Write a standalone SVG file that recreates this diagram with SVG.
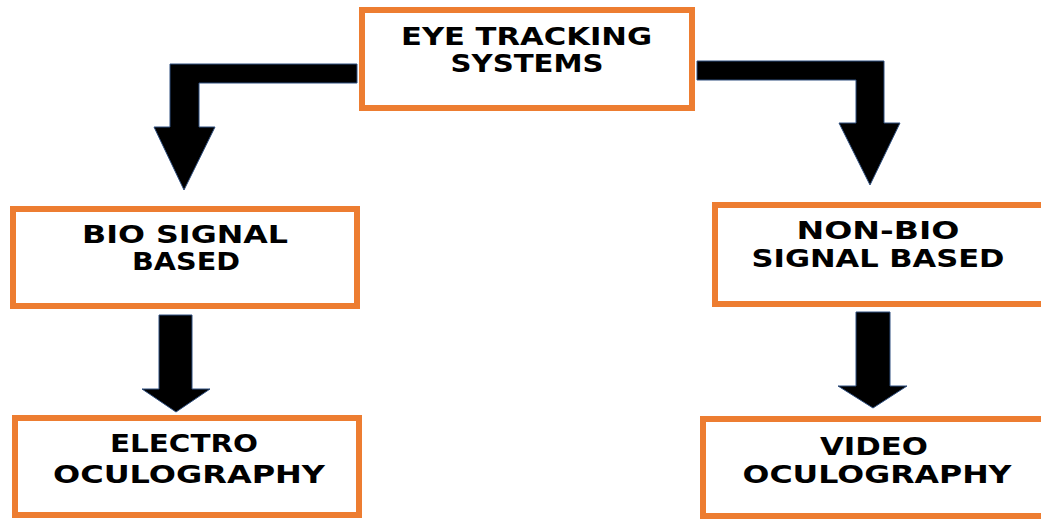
<svg xmlns="http://www.w3.org/2000/svg" width="1041" height="519" viewBox="0 0 1041 519">
<style>
.box{fill:#fff;stroke:#ED7D31;stroke-width:6}
.arrow{fill:#000;stroke:#2F4F7F;stroke-width:1;stroke-linejoin:miter}
text{font-family:"DejaVu Sans","Liberation Sans",sans-serif;font-weight:bold;font-size:24px;fill:#000;text-anchor:middle}
</style>
<rect width="1041" height="519" fill="#fff"/>
<g id="connectors">
<polygon class="arrow" points="357,64 170,64 170,127 154,127 184,190 215,127 199,127 199,83 357,83"/>
<polygon class="arrow" points="697,61 884,61 884,123 900,123 870,185 839,123 856,123 856,80 697,80"/>
<polygon class="arrow" points="159,315 192,315 192,389 210,389 176,412 142,389 159,389"/>
<polygon class="arrow" points="856,312 890,312 890,386 907,386 873,408 838,386 856,386"/>
</g>
<g id="eye-tracking">
<rect class="box" x="362" y="10" width="330" height="98"/>
<text x="526.5" y="45" textLength="251" lengthAdjust="spacingAndGlyphs">EYE TRACKING</text>
<text x="527" y="72" textLength="153" lengthAdjust="spacingAndGlyphs">SYSTEMS</text>
</g>
<g id="bio-signal">
<rect class="box" x="13" y="209" width="344" height="97"/>
<text x="185" y="243" textLength="206" lengthAdjust="spacingAndGlyphs">BIO SIGNAL</text>
<text x="186" y="270" textLength="108" lengthAdjust="spacingAndGlyphs">BASED</text>
</g>
<g id="non-bio-signal">
<rect class="box" x="715" y="205" width="335" height="99"/>
<text x="878" y="239" textLength="163" lengthAdjust="spacingAndGlyphs">NON-BIO</text>
<text x="878" y="267" textLength="253" lengthAdjust="spacingAndGlyphs">SIGNAL BASED</text>
</g>
<g id="electro">
<rect class="box" x="15" y="418" width="344" height="97"/>
<text x="184" y="452" textLength="148" lengthAdjust="spacingAndGlyphs">ELECTRO</text>
<text x="189" y="483" textLength="272" lengthAdjust="spacingAndGlyphs">OCULOGRAPHY</text>
</g>
<g id="video">
<rect class="box" x="703" y="419" width="345" height="97"/>
<text x="874" y="455" textLength="108" lengthAdjust="spacingAndGlyphs">VIDEO</text>
<text x="877" y="483" textLength="269" lengthAdjust="spacingAndGlyphs">OCULOGRAPHY</text>
</g>
</svg>
